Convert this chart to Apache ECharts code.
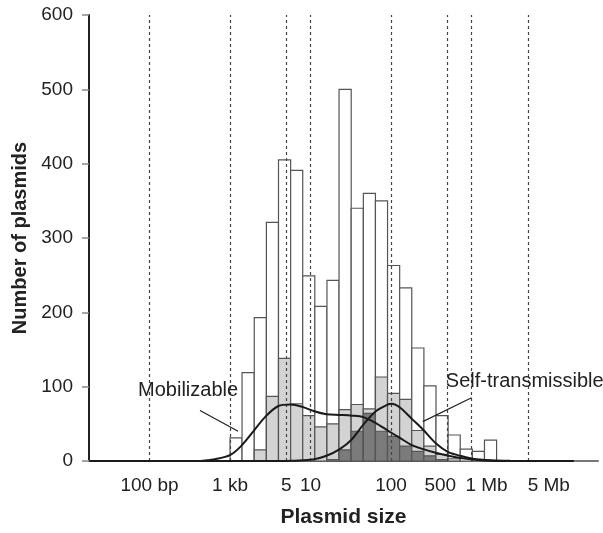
<!DOCTYPE html>
<html>
<head>
<meta charset="utf-8">
<script src="https://cdn.jsdelivr.net/npm/echarts@6/dist/echarts.min.js"></script>
<style>
  html, body { margin: 0; padding: 0; background: #fff; }
  #chart { width: 603px; height: 533px; }
</style>
</head>
<body>
<div id="chart"></div>
<script>
// bin edges in kb (each bin is half a log2 step)
var binEdgesKb = [1, 1.41, 2, 2.83, 4, 5.66, 8, 11.3, 16, 22.6, 32, 45.3, 64, 90.5, 128, 181, 256, 362, 512, 724, 1024, 1448, 2048];
// counts per bin, stacked: self-transmissible (dark), mobilizable (light), rest (white)
var selfTransmissible = [0, 0, 0, 0, 0, 0, 0, 0, 2, 15, 40, 64, 40, 33, 20, 13, 7, 2, 0, 0, 0, 0];
var mobilizable = [0, 0, 15, 87, 138, 77, 61, 46, 48, 54, 36, 6, 73, 58, 63, 28, 13, 7, 3, 0, 0, 0];
var nonMobilizable = [31, 119, 178, 234, 267, 314, 188, 162, 193, 431, 264, 290, 237, 172, 150, 111, 81, 52, 32, 16, 13, 28];

// fitted curves
var mobCurveKb = [0.018, 0.4, 0.52, 0.62, 1.0, 1.37, 1.95, 2.77, 3.98, 5.61, 7.83, 11.1, 15.8, 22.8, 32.5, 45.3, 64.6, 91, 129, 184, 251, 359, 515, 726, 1035, 1700, 3000, 18600];
var mobCurve = [0, 0, 1, 2, 8, 20, 40, 60, 74, 76, 73, 67, 63, 62, 61, 59, 51, 41, 31, 21, 16, 11, 7, 4, 2, 0.5, 0, 0];
var selfCurveKb = [0.018, 5.0, 6.0, 10.7, 15.8, 22.8, 32.5, 45.3, 64.6, 91, 102, 129, 184, 251, 359, 515, 726, 1035, 1700, 3000, 18600];
var selfCurve = [0, 0, 0.5, 2, 7, 15.6, 29, 49, 67, 76, 77, 72, 56, 42, 24, 12, 7, 3, 1, 0.3, 0];

// x tick marks (dashed lines)
var tickKb = [0.1, 1, 5, 10, 100, 500, 1000, 5000];
var tickNames = ['100 bp', '1 kb', '5', '10', '100', '500', '1 Mb', '5 Mb'];

var FONT = '"Liberation Sans", Arial, sans-serif';
var lg = function (kb) { return Math.log10(kb * 1000); };

var barData = [];
for (var i = 0; i < nonMobilizable.length; i++) {
  var d = selfTransmissible[i];
  var m = d + mobilizable[i];
  barData.push([lg(binEdgesKb[i]), lg(binEdgesKb[i + 1]), d, m, m + nonMobilizable[i]]);
}
var mobData = mobCurveKb.map(function (kb, i) { return [lg(kb), mobCurve[i]]; });
var selfData = selfCurveKb.map(function (kb, i) { return [lg(kb), selfCurve[i]]; });

function renderBin(params, api) {
  var x0 = api.value(0), x1 = api.value(1);
  var tops = [api.value(4), api.value(3), api.value(2)];
  var fills = ['#ffffff', '#d3d3d3', '#7b7b7b'];
  var children = [];
  for (var k = 0; k < 3; k++) {
    if (tops[k] <= 0) continue;
    var p0 = api.coord([x0, tops[k]]);
    var p1 = api.coord([x1, 0]);
    children.push({
      type: 'rect',
      shape: { x: p0[0], y: p0[1], width: p1[0] - p0[0], height: p1[1] - p0[1] },
      style: { fill: fills[k], stroke: '#555', lineWidth: 1.2 }
    });
  }
  return { type: 'group', children: children };
}

var chart = echarts.init(document.getElementById('chart'));
var option = {
  animation: false,
  textStyle: { fontFamily: FONT },
  grid: { left: 89, right: 5, top: 15, bottom: 68 },
  xAxis: {
    type: 'value',
    min: 1.248,
    max: 7.571,
    name: 'Plasmid size',
    nameLocation: 'middle',
    nameGap: 46,
    nameTextStyle: { fontSize: 21, fontWeight: 'bold', color: '#222', fontFamily: FONT },
    axisLine: { lineStyle: { color: '#777', width: 2 } },
    axisTick: { show: false },
    axisLabel: { show: false },
    splitLine: { show: false }
  },
  yAxis: {
    type: 'value',
    min: 0,
    max: 600,
    interval: 100,
    name: 'Number of plasmids',
    nameLocation: 'middle',
    nameGap: 55,
    nameTextStyle: { fontSize: 20, fontWeight: 'bold', color: '#222', fontFamily: FONT },
    axisLine: { show: true, lineStyle: { color: '#222', width: 2 } },
    axisTick: { show: true, length: 7, lineStyle: { color: '#888', width: 1.5 } },
    axisLabel: { fontSize: 19, color: '#222', margin: 16, fontFamily: FONT },
    splitLine: { show: false }
  },
  series: [
    {
      type: 'custom',
      renderItem: renderBin,
      encode: { x: [0, 1], y: [2, 3, 4] },
      data: barData,
      z: 2
    },
    {
      name: 'Mobilizable',
      type: 'line',
      data: mobData,
      showSymbol: false,
      smooth: 0.3,
      lineStyle: { color: '#1a1a1a', width: 2 },
      z: 5,
      markLine: {
        silent: true,
        symbol: ['none', 'none'],
        label: { show: false },
        lineStyle: { type: [3, 3], color: '#444', width: 1.2 },
        data: tickKb.map(function (kb) {
          return [{ coord: [lg(kb), 0] }, { coord: [lg(kb), 600] }];
        })
      }
    },
    {
      name: 'Self-transmissible',
      type: 'line',
      data: selfData,
      showSymbol: false,
      smooth: 0.3,
      lineStyle: { color: '#1a1a1a', width: 2 },
      z: 5
    }
  ]
};
chart.setOption(option);

// tick labels under the dashed lines, plus the two curve annotations
var tickNudge = [0, 0, 0, 0, 0, -7, 15, 21];
var toPx = function (x, y) { return chart.convertToPixel({ gridIndex: 0 }, [x, y]); };
var graphics = [];
tickKb.forEach(function (kb, i) {
  var p = toPx(lg(kb), 0);
  graphics.push({
    type: 'text', x: p[0] + tickNudge[i], y: p[1] + 25, silent: true,
    style: { text: tickNames[i], align: 'center', verticalAlign: 'middle', fontSize: 19, fontFamily: FONT, fill: '#222' }
  });
});
var mobLabel = toPx(lg(1.26), 95);
var mobFrom = toPx(lg(0.424), 68), mobTo = toPx(lg(1.26), 40);
var selfLabel = toPx(lg(479), 107);
var selfFrom = toPx(lg(1000), 85), selfTo = toPx(lg(248), 53);
graphics.push(
  { type: 'text', x: mobLabel[0], y: mobLabel[1], z: 10, silent: true,
    style: { text: 'Mobilizable', align: 'right', verticalAlign: 'middle', fontSize: 20, fontFamily: FONT, fill: '#222' } },
  { type: 'line', z: 10, silent: true, shape: { x1: mobFrom[0], y1: mobFrom[1], x2: mobTo[0], y2: mobTo[1] },
    style: { stroke: '#222', lineWidth: 1.2 } },
  { type: 'text', x: selfLabel[0], y: selfLabel[1], z: 10, silent: true,
    style: { text: 'Self-transmissible', align: 'left', verticalAlign: 'middle', fontSize: 20, fontFamily: FONT, fill: '#222' } },
  { type: 'line', z: 10, silent: true, shape: { x1: selfFrom[0], y1: selfFrom[1], x2: selfTo[0], y2: selfTo[1] },
    style: { stroke: '#222', lineWidth: 1.2 } }
);
chart.setOption({ graphic: graphics });
</script>
</body>
</html>
